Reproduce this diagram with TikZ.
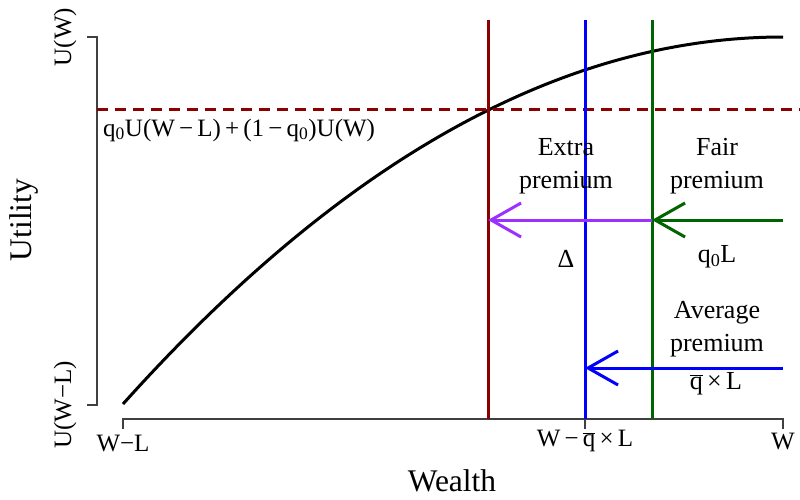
\documentclass[tikz,border=0pt]{standalone}
\usepackage{fontspec}
\setmainfont{Liberation Serif}
\usetikzlibrary{arrows.meta}
\definecolor{rdark}{HTML}{8B0000}
\definecolor{gdark}{HTML}{006400}
\definecolor{rpurple}{HTML}{9B30FF}
\definecolor{axisgray}{HTML}{404040}
\newcommand{\qbr}{$\overline{\mbox{q}}$}
\begin{document}
\begin{tikzpicture}[x=1pt,y=-1pt,
  lbl/.style={font=\fontsize{26}{33}\selectfont, inner sep=0pt, align=center},
  tick/.style={font=\fontsize{25}{30}\selectfont, inner sep=0pt},
  ttl/.style={font=\fontsize{31.5}{36}\selectfont, inner sep=0pt},
  axisline/.style={line width=1.2pt, axisgray},
  thick line/.style={line width=3pt},
  barb/.style={-{Straight Barb[length=30pt,width=34pt]}, line width=3pt}]
\useasboundingbox (0,0) rectangle (800,499);
% coordinates
\coordinate (yt) at (97,37);
\coordinate (yb) at (97,405);
\coordinate (ytl) at (87,37);
\coordinate (ybl) at (87,405);
\coordinate (xl) at (123,419);
\coordinate (xr) at (783,419);
\coordinate (xm) at (585,419);
\coordinate (xlb) at (123,429);
\coordinate (xrb) at (783,429);
\coordinate (xmb) at (585,429);
\coordinate (c0) at (123,404);
\coordinate (c1) at (783,37);
\coordinate (dl) at (97,109);
\coordinate (dr) at (800,109);
\coordinate (rt) at (488,20);
\coordinate (rb) at (488,419);
\coordinate (bt) at (585,20);
\coordinate (bb) at (585,419);
\coordinate (gt) at (652,20);
\coordinate (gb) at (652,419);
\coordinate (pa) at (652,220);
\coordinate (pb) at (488,220);
\coordinate (ga) at (783,220);
\coordinate (blA) at (783,368);
\coordinate (blB) at (585,368);
% axes
\draw[axisline] (ytl) -- (yt) -- (yb) -- (ybl);
\draw[axisline] (xlb) -- (xl) -- (xr) -- (xrb);
\draw[axisline] (xm) -- (xmb);
% curve
\draw[thick line, black] (c0) .. controls (343,159) and (563,37) .. (c1);
% dashed line
\draw[thick line, rdark, dash pattern=on 11pt off 7pt] (dl) -- (dr);
% verticals
\draw[thick line, rdark] (rt) -- (rb);
\draw[thick line, blue] (bt) -- (bb);
\draw[thick line, gdark] (gt) -- (gb);
% arrows
\draw[barb, rpurple] (pa) -- (pb);
\draw[barb, gdark] (ga) -- (pa);
\draw[barb, blue] (blA) -- (blB);
% labels
\node[tick, anchor=west] (form) at (103,130) {q\textsubscript{0}U(W\,−\,L)\,+\,(1\,−\,q\textsubscript{0})U(W)};
\node[lbl] (extra) at (566,166) {Extra\\premium};
\node[lbl] (fair) at (717,166) {Fair\\premium};
\node[lbl] (delta) at (566,259) {Δ};
\node[lbl] (q0l) at (717,257) {q\textsubscript{0}L};
\node[lbl] (avg) at (717,329) {Average\\premium};
\node[lbl, anchor=base] (qbl) at (716,389) {\qbr\,×\,L};
\node[tick] (xwl) at (123,443) {W−L};
\node[tick] (xwq) at (585,441) {W\,−\,\qbr\,×\,L};
\node[tick] (xw) at (783,441) {W};
\node[ttl, anchor=base] (wealth) at (452,491) {Wealth};
\node[tick, rotate=90] (uw) at (65,37) {U(W)};
\node[tick, rotate=90] (uwl) at (65,405) {U(W−L)};
\node[ttl, rotate=90] (util) at (24,220) {Utility};
\end{tikzpicture}
\end{document}
